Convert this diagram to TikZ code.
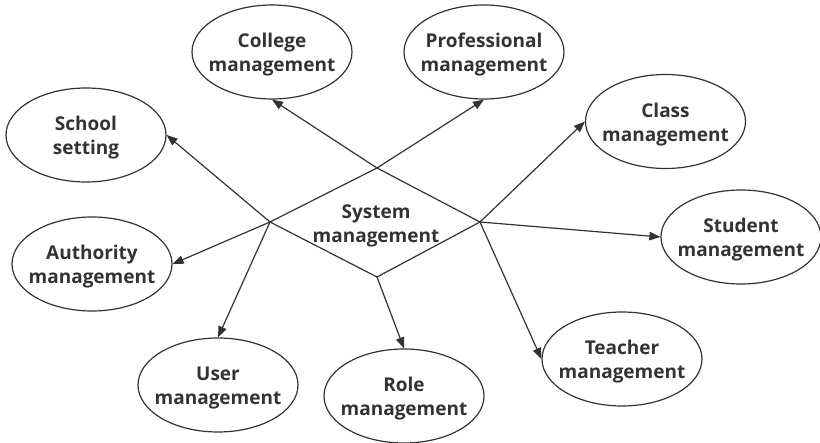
\documentclass[tikz,border=0pt]{standalone}
\usepackage{fontspec}
\setmainfont{Open Sans}
\usetikzlibrary{shapes.geometric,arrows.meta}
\definecolor{ink}{HTML}{333333}
\begin{document}
\begin{tikzpicture}[x=1pt,y=-1pt,
  txt/.style={text=ink, font=\fontsize{19}{24}\selectfont\bfseries, align=center, inner sep=0pt},
  oval/.style={ellipse, draw=ink, line width=1.2pt, minimum width=160pt, minimum height=94pt, inner sep=0pt,
    label={[txt,yshift=-3pt]center:#1}},
  conn/.style={draw=ink, line width=1.2pt, -{Triangle[length=11pt,width=8.5pt]}},
  edge/.style={draw=ink, line width=1.2pt, line join=miter}]
\useasboundingbox (0,0) rectangle (820,443);
% ellipses
\node[oval={College\\management}] (college) at (272,52) {};
\node[oval={Professional\\management}] (prof) at (484,52) {};
\node[oval={School\\setting}] (school) at (86,135) {};
\node[oval={Authority\\management}] (auth) at (92,264) {};
\node[oval={Class\\management}] (class) at (665.5,121.5) {};
\node[oval={Student\\management}] (student) at (741,237) {};
\node[oval={User\\management}] (user) at (218,385) {};
\node[oval={Role\\management}] (role) at (404,396) {};
\node[oval={Teacher\\management}] (teacher) at (622,359) {};
% diamond
\coordinate (dT) at (377,168);
\coordinate (dR) at (480,222);
\coordinate (dB) at (377,277);
\coordinate (dL) at (270,222);
\draw[edge] (dT) -- (dR) -- (dB) -- (dL) -- cycle;
\node[txt] (sys) at (376,226) {System\\management};
% connectors
\draw[conn] (dT) -- (college.south);
\draw[conn] (dT) -- (prof.south);
\draw[conn] (dL) -- (school.east);
\draw[conn] (dL) -- (auth.east);
\draw[conn] (dL) -- (user.north);
\draw[conn] (dB) -- (role.north);
\draw[conn] (dR) -- (class.west);
\draw[conn] (dR) -- (student.west);
\draw[conn] (dR) -- (teacher.west);
\end{tikzpicture}
\end{document}
